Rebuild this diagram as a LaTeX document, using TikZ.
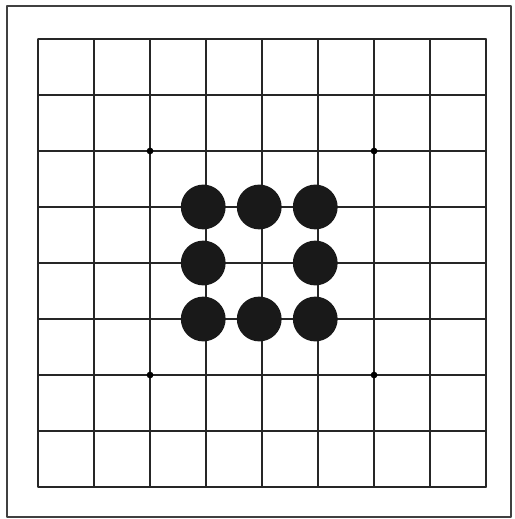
\documentclass[tikz,border=0pt]{standalone}
\begin{document}
\begin{tikzpicture}[line join=round, line cap=round, line width=0.9pt]
	\useasboundingbox (-0.679,-0.571) rectangle (8.5,8.696);
	\draw[black!75] (-0.554,-0.536) rectangle (8.446,8.589);
	\draw[black!85] (0,0) grid (8,8);
	\foreach \x in {2,6} \foreach \y in {2,6}
		\fill (\x,\y) circle (0.06);
	\foreach \x/\y in {3/5,4/5,5/5,3/4,5/4,3/3,4/3,5/3}
		\fill[black!90] (\x-0.05,\y) circle (0.4);
\end{tikzpicture}
\end{document}
